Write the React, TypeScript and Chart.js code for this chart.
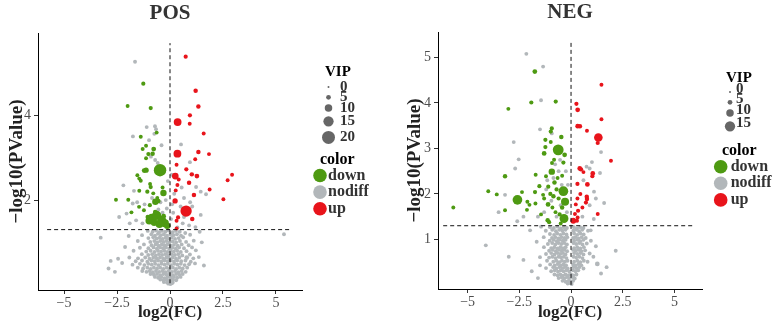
import React, { useEffect, useRef } from 'react';
import { Chart, registerables } from 'chart.js';

Chart.register(...registerables);

const FONT = "'Liberation Serif', 'Times New Roman', serif";
const GREEN = '#4E9A12';
const GRAY = '#B2B7BA';
const RED = '#E8141B';
const KEY_GRAY = '#666666';

type P = [number, number, number?];

// ---------- POS panel ----------
const POS_UP: P[] = [
  [0.74, 5.40, 4], [1.21, 4.59, 4.5], [1.34, 4.22, 4.5], [0.94, 4.01, 4], [0.93, 3.81, 3.5],
  [0.36, 3.85, 10.5], [1.59, 3.58, 3.5], [0.35, 3.10, 10.5], [1.34, 3.14, 4.5], [1.84, 3.09, 3.5],
  [1.19, 2.97, 3.5], [0.31, 2.84, 3.5], [0.25, 2.57, 8.5], [0.77, 2.73, 4], [1.03, 2.61, 4.5],
  [1.27, 2.57, 5], [0.41, 2.49, 3.5], [2.93, 2.60, 3.5], [2.72, 2.47, 3.5], [0.90, 2.41, 4.5],
  [0.35, 2.36, 3.5], [1.87, 2.25, 3.5], [0.27, 2.23, 3.5], [1.13, 2.12, 4.5], [2.52, 2.02, 3.5],
  [0.24, 1.98, 6], [0.76, 1.74, 17], [1.05, 1.55, 4.5], [0.31, 1.51, 3.5], [0.38, 1.59, 4],
  [0.31, 1.33, 3.5],
];
const POS_DOWN: P[] = [
  [-1.26, 4.76, 4], [-2.0, 4.23, 3.5], [-0.91, 4.18, 4], [-0.63, 3.60, 3.5], [-1.38, 3.50, 3.5],
  [-1.13, 3.29, 3.5], [-1.29, 3.21, 3.5], [-0.77, 3.21, 5], [-0.82, 3.10, 4.5], [-1.02, 3.09, 4],
  [-1.13, 2.99, 3.5], [-0.47, 2.71, 19], [-1.13, 2.71, 6], [-1.22, 2.70, 5], [-1.54, 2.59, 3.5],
  [-1.45, 2.51, 3.5], [-1.38, 2.46, 3.5], [-0.94, 2.38, 3.5], [-0.91, 2.31, 4], [-1.07, 2.20, 4],
  [-0.79, 2.16, 3.5], [-0.35, 2.30, 3.5], [-0.31, 2.17, 8], [-2.55, 2.01, 3.5], [-1.97, 2.01, 3.5],
  [-1.45, 2.22, 3.5], [-1.82, 1.71, 3.5], [-1.46, 1.84, 3.5], [-0.69, 1.96, 8], [-0.55, 1.98, 4.5],
  [-1.23, 1.76, 3.5], [-0.86, 1.56, 14], [-0.63, 1.64, 13], [-0.39, 1.52, 13], [-0.24, 1.45, 11],
  [-0.98, 1.51, 10], [-0.13, 1.39, 8], [-0.75, 1.47, 9], [-0.5, 1.43, 10], [-0.7, 1.72, 4.5],
  [-0.3, 1.62, 5], [-1.05, 1.60, 4.5], [-0.95, 1.88, 4], [-0.6, 2.05, 3.5],
];
const POS_NODIFF: P[] = [
  [-1.65, 5.28], [-1.1, 3.73], [-0.71, 3.75], [-0.66, 3.68], [-0.74, 3.57], [-1.75, 3.51],
  [-0.99, 3.42], [-0.9, 3.03], [-0.7, 2.95], [-0.58, 2.88], [0.94, 2.9], [1.7, 2.14],
  [1.23, 2.31], [1.45, 2.2], [-2.2, 2.35], [-1.7, 2.22], [-1.76, 1.92], [-2.05, 1.68],
  [-1.55, 1.95], [0.55, 2.3], [0.66, 2.05], [0.5, 1.85], [0.95, 1.95], [1.45, 1.65],
  [0.66, 1.6], [-0.2, 2.0], [-0.15, 1.8], [0.1, 1.9], [0.15, 1.7], [0.05, 1.55],
  [-0.45, 1.95], [-1.3, 1.45], [-1.6, 1.52], [0.6, 1.45], [0.9, 1.4], [1.2, 1.36],
  [-0.1, 2.45], [0.08, 2.6], [-0.4, 3.3], [0.52, 3.32], [-0.35, 1.7], [-0.55, 1.78],
  [-1.2, 1.9], [-0.85, 2.05], [0.2, 2.15], [0.35, 1.35], [-0.05, 1.4], [1.05, 1.85],
  [-2.4, 1.6], [-1.9, 1.45],
  [-1.05, 1.27], [-0.82, 1.25], [-0.66, 1.28], [-0.52, 1.24], [-0.38, 1.27], [-0.22, 1.25],
  [-0.08, 1.28], [0.12, 1.24], [0.28, 1.27], [0.46, 1.25], [0.72, 1.22],
  [-1.32, 1.17], [-0.88, 1.19], [-0.71, 1.16], [-0.57, 1.2], [-0.43, 1.17], [-0.29, 1.19],
  [-0.14, 1.16], [0.02, 1.19], [0.17, 1.17], [0.33, 1.19], [0.52, 1.16], [0.95, 1.18],
  [-3.27, 1.11], [-1.02, 1.1], [-0.79, 1.12], [-0.63, 1.09], [-0.49, 1.11], [-0.35, 1.08],
  [-0.21, 1.11], [-0.06, 1.09], [0.09, 1.11], [0.24, 1.08], [0.41, 1.1], [0.62, 1.12],
  [-1.52, 1.03], [-0.93, 1.01], [-0.74, 1.03], [-0.6, 1.0], [-0.46, 1.03], [-0.31, 1.01],
  [-0.17, 1.03], [-0.02, 1.0], [0.13, 1.02], [0.29, 1.0], [0.47, 1.03], [0.76, 1.01], [1.12, 1.04],
  [-1.23, 0.95], [-0.87, 0.93], [-0.68, 0.95], [-0.54, 0.92], [-0.39, 0.95], [-0.26, 0.93],
  [-0.11, 0.95], [0.04, 0.92], [0.19, 0.94], [0.36, 0.92], [0.55, 0.95], [0.88, 0.93],
  [-2.12, 0.89], [-1.42, 0.87], [-1.02, 0.86], [-0.78, 0.88], [-0.62, 0.85], [-0.47, 0.88],
  [-0.33, 0.86], [-0.19, 0.88], [-0.04, 0.85], [0.11, 0.87], [0.27, 0.85], [0.43, 0.88],
  [0.66, 0.86], [1.04, 0.88],
  [-1.72, 0.8], [-1.12, 0.78], [-0.91, 0.8], [-0.73, 0.77], [-0.57, 0.8], [-0.42, 0.78],
  [-0.27, 0.8], [-0.12, 0.77], [0.03, 0.8], [0.18, 0.78], [0.34, 0.8], [0.51, 0.77],
  [0.78, 0.79], [1.22, 0.81],
  [-1.33, 0.72], [-1.03, 0.7], [-0.84, 0.72], [-0.67, 0.69], [-0.52, 0.72], [-0.37, 0.7],
  [-0.22, 0.72], [-0.07, 0.69], [0.08, 0.72], [0.23, 0.7], [0.39, 0.72], [0.58, 0.69], [0.94, 0.71],
  [-1.92, 0.64], [-1.51, 0.62], [-1.17, 0.64], [-0.97, 0.61], [-0.79, 0.64], [-0.63, 0.62],
  [-0.47, 0.64], [-0.32, 0.61], [-0.17, 0.64], [-0.02, 0.62], [0.13, 0.64], [0.28, 0.61],
  [0.44, 0.64], [0.79, 0.64, 5], [1.1, 0.62], [1.36, 0.65], [-2.45, 0.61],
  [-2.8, 0.56], [-1.62, 0.55], [-1.32, 0.57], [-1.07, 0.54], [-0.88, 0.57], [-0.72, 0.55],
  [-0.56, 0.57], [-0.41, 0.54], [-0.26, 0.57], [-0.11, 0.55], [0.04, 0.57], [0.19, 0.54],
  [0.34, 0.57], [0.53, 0.55], [0.73, 0.57], [0.98, 0.54],
  [-2.26, 0.51], [-1.77, 0.47], [-1.42, 0.49], [-1.21, 0.46], [-1.02, 0.49], [-0.86, 0.47],
  [-0.7, 0.49], [-0.55, 0.46], [-0.4, 0.49], [-0.25, 0.47], [-0.1, 0.49], [0.05, 0.46],
  [0.2, 0.49], [0.35, 0.47], [0.51, 0.49], [0.69, 0.46], [0.9, 0.48], [1.18, 0.5],
  [-1.52, 0.4], [-1.27, 0.38], [-1.07, 0.4], [-0.91, 0.37], [-0.76, 0.4], [-0.61, 0.38],
  [-0.46, 0.4], [-0.31, 0.37], [-0.16, 0.4], [-0.01, 0.38], [0.14, 0.4], [0.29, 0.37],
  [0.44, 0.4], [0.6, 0.38], [0.81, 0.4],
  [-1.31, 0.32], [-1.11, 0.3], [-0.96, 0.32], [-0.81, 0.29], [-0.66, 0.32], [-0.51, 0.3],
  [-0.36, 0.32], [-0.21, 0.29], [-0.06, 0.32], [0.09, 0.3], [0.24, 0.32], [0.4, 0.29],
  [0.55, 0.32], [0.74, 0.3],
  [-0.92, 0.25], [-0.76, 0.23], [-0.61, 0.25], [-0.46, 0.22], [-0.31, 0.25], [-0.16, 0.23],
  [-0.01, 0.25], [0.14, 0.22], [0.29, 0.25], [0.44, 0.23], [0.6, 0.25],
  [-0.71, 0.18], [-0.56, 0.16], [-0.41, 0.18], [-0.26, 0.15], [-0.11, 0.18], [0.04, 0.16],
  [0.19, 0.18], [0.34, 0.16], [0.5, 0.18],
  [-0.46, 0.12], [-0.31, 0.1], [-0.16, 0.12], [-0.01, 0.1], [0.14, 0.12], [0.29, 0.1],
  [-0.29, 0.06], [-0.14, 0.05], [0.01, 0.07], [0.13, 0.05],
  [-0.08, 0.02], [0.02, 0.01], [0.09, 0.03],
  [1.5, 1.0], [-2.6, 0.3], [-2.9, 0.38], [1.6, 0.45], [-1.95, 1.15], [1.4, 1.25], [5.38, 1.19],
];

// ---------- NEG panel ----------
const NEG_UP: P[] = [
  [1.47, 4.40, 3.5], [0.26, 3.98, 4], [0.32, 3.85, 5], [1.47, 3.64, 3.5], [0.32, 3.49, 5],
  [0.43, 3.49, 4.5], [0.77, 3.39, 3.5], [1.32, 3.24, 12], [1.29, 3.12, 4], [1.93, 2.73, 3.5],
  [0.42, 2.56, 5], [0.48, 2.54, 4.5], [0.60, 2.48, 3.5], [1.05, 2.45, 5], [1.03, 2.39, 4],
  [0.31, 2.22, 4], [0.79, 2.21, 5], [0.76, 1.94, 4.5], [0.77, 1.89, 4.5], [0.72, 1.81, 4],
  [0.31, 1.90, 3.5], [0.23, 1.77, 3.5], [0.34, 1.63, 4], [0.19, 1.56, 3.5], [1.29, 1.56, 3.5],
  [0.32, 1.48, 3.5], [0.11, 1.41, 7], [0.29, 1.41, 3.5], [0.45, 2.0, 3.5], [0.55, 1.7, 3.5],
];
const NEG_DOWN: P[] = [
  [-1.75, 4.69, 5], [-1.92, 4.01, 4], [-0.74, 4.03, 4], [-3.03, 3.87, 3.5], [-0.93, 3.44, 4],
  [-0.98, 3.37, 4], [-0.47, 3.25, 4.5], [-1.24, 3.19, 4], [-0.98, 3.14, 3.5], [-1.24, 3.03, 4],
  [-0.62, 2.97, 16], [-1.30, 2.89, 5], [-0.31, 2.86, 5], [-0.82, 2.75, 3.5], [-0.37, 2.69, 4],
  [-0.92, 2.68, 3.5], [-0.93, 2.49, 8], [-1.21, 2.39, 3.5], [-0.43, 2.40, 3.5], [-1.71, 2.42, 3.5],
  [-3.19, 2.39, 4.5], [-0.37, 2.06, 14], [-4.0, 2.06, 3.5], [-3.59, 1.99, 3.5], [-1.74, 2.04, 4],
  [-2.37, 2.04, 3.5], [-2.59, 1.87, 14], [-2.11, 1.83, 3.5], [-5.69, 1.70, 3.5], [-3.19, 1.64, 3.5],
  [-2.13, 1.65, 3.5], [-2.01, 1.76, 3.5], [-1.53, 2.17, 4], [-1.35, 1.98, 3.5], [-1.1, 2.16, 4],
  [-0.29, 1.83, 11], [-1.11, 1.77, 5], [-1.72, 1.79, 3.5], [-1.13, 1.42, 4.5], [-1.06, 1.38, 4],
  [-0.34, 1.46, 12.5], [-0.43, 1.70, 4.5], [-0.8, 2.25, 4.5], [-0.7, 2.1, 4], [-0.85, 1.95, 4.5],
  [-0.6, 1.9, 4], [-0.75, 1.6, 3.5], [-0.55, 1.55, 4], [-0.9, 1.7, 3.5], [-1.45, 1.55, 3.5],
  [-0.65, 2.35, 3.5], [-1.0, 2.0, 4], [-0.5, 1.35, 3.5], [-1.3, 1.9, 3.5],
];
const NEG_NODIFF: P[] = [
  [-2.16, 5.08], [-1.35, 4.80], [-1.45, 4.06], [-1.5, 3.42], [-0.93, 3.33], [-2.77, 3.14],
  [-2.53, 2.76], [1.45, 2.92], [1.01, 2.70], [0.9, 2.56], [-0.53, 2.75], [-0.77, 2.65],
  [-2.7, 2.56], [1.4, 2.46], [1.11, 2.05], [-3.19, 1.98], [-1.15, 2.3], [-0.6, 2.5],
  [-0.85, 2.35], [-0.45, 2.2], [-1.2, 2.1], [-0.95, 1.85], [-0.5, 1.75], [-0.7, 1.5],
  [-1.3, 1.6], [-0.2, 1.6], [-0.15, 2.2], [0.6, 2.3], [0.9, 1.75], [0.55, 1.5],
  [0.75, 2.6], [-1.6, 1.5], [-2.3, 1.5], [-2.6, 1.4], [-3.5, 1.6], [1.2, 1.9],
  [1.6, 1.8], [-0.25, 2.5], [1.1, 1.45],
  [-1.02, 1.27], [-0.83, 1.25], [-0.66, 1.28], [-0.5, 1.24], [-0.35, 1.27], [-0.2, 1.25],
  [0.14, 1.27], [0.29, 1.24], [0.44, 1.27], [0.6, 1.25],
  [-1.98, 1.2], [-1.22, 1.19], [-0.91, 1.21], [-0.73, 1.18], [-0.57, 1.21], [-0.42, 1.19],
  [-0.27, 1.21], [0.11, 1.19], [0.24, 1.21], [0.39, 1.18], [0.54, 1.21], [0.82, 1.19],
  [-1.02, 1.12], [-0.82, 1.1], [-0.67, 1.13], [-0.52, 1.1], [-0.37, 1.13], [-0.22, 1.11],
  [0.15, 1.13], [0.3, 1.1], [0.45, 1.13], [0.61, 1.11],
  [-1.32, 1.05], [-0.92, 1.03], [-0.76, 1.05], [-0.61, 1.02], [-0.46, 1.05], [-0.31, 1.03],
  [-0.18, 1.05], [0.1, 1.03], [0.22, 1.05], [0.37, 1.02], [0.52, 1.05], [0.71, 1.03],
  [-1.03, 0.97], [-0.84, 0.99], [-0.69, 0.96], [-0.55, 0.99], [-0.4, 0.97], [-0.26, 0.99],
  [0.15, 0.97], [0.3, 0.99], [0.45, 0.96], [0.6, 0.99], [0.96, 0.97],
  [-1.66, 0.95], [-1.12, 0.9], [-0.91, 0.92], [-0.76, 0.89], [-0.61, 0.92], [-0.47, 0.9],
  [-0.33, 0.92], [-0.2, 0.89], [0.12, 0.92], [0.25, 0.9], [0.4, 0.92], [0.55, 0.89], [0.76, 0.91],
  [-1.31, 0.83], [-0.96, 0.81], [-0.81, 0.83], [-0.66, 0.8], [-0.52, 0.83], [-0.39, 0.81],
  [-0.26, 0.83], [0.15, 0.81], [0.3, 0.83], [0.45, 0.8], [0.62, 0.83],
  [-1.06, 0.75], [-0.88, 0.77], [-0.73, 0.74], [-0.58, 0.77], [-0.45, 0.75], [-0.32, 0.77],
  [-0.19, 0.74], [0.1, 0.77], [0.22, 0.75], [0.36, 0.77], [0.5, 0.74], [0.68, 0.76], [2.16, 0.75],
  [-1.21, 0.68], [-0.96, 0.7], [-0.8, 0.67], [-0.65, 0.7], [-0.52, 0.68], [-0.39, 0.7],
  [-0.27, 0.67], [0.15, 0.7], [0.3, 0.68], [0.45, 0.7], [0.6, 0.67], [0.9, 0.69],
  [-3.01, 0.62], [-1.5, 0.61], [-1.06, 0.6], [-0.9, 0.62], [-0.75, 0.59], [-0.6, 0.62],
  [-0.48, 0.6], [-0.35, 0.62], [-0.22, 0.59], [0.12, 0.62], [0.25, 0.6], [0.4, 0.62],
  [0.55, 0.59], [1.08, 0.62],
  [-1.16, 0.53], [-0.86, 0.51], [-0.71, 0.53], [-0.57, 0.5], [-0.44, 0.53], [-0.3, 0.51],
  [-0.17, 0.53], [0.15, 0.51], [0.3, 0.53], [0.45, 0.5], [0.62, 0.53], [0.8, 0.51],
  [-1.5, 0.43], [-1.01, 0.45], [-0.79, 0.43], [-0.64, 0.46], [-0.5, 0.43], [-0.37, 0.45],
  [-0.24, 0.43], [0.1, 0.45], [0.22, 0.43], [0.36, 0.46], [0.5, 0.43], [1.27, 0.46, 5], [1.72, 0.39],
  [-1.21, 0.37], [-0.86, 0.39], [-0.71, 0.36], [-0.56, 0.39], [-0.42, 0.37], [-0.3, 0.39],
  [-0.16, 0.36], [0.12, 0.39], [0.26, 0.37], [0.4, 0.39], [0.6, 0.36],
  [-0.96, 0.3], [-0.79, 0.32], [-0.63, 0.29], [-0.5, 0.32], [-0.36, 0.3], [-0.22, 0.32],
  [-0.08, 0.29], [0.1, 0.32], [0.22, 0.3], [0.35, 0.32],
  [-0.8, 0.23], [-0.65, 0.21], [-0.52, 0.23], [-0.4, 0.2], [-0.27, 0.23], [-0.14, 0.21],
  [0.0, 0.23], [0.12, 0.21], [0.26, 0.23],
  [-0.6, 0.15], [-0.46, 0.17], [-0.33, 0.14], [-0.2, 0.17], [-0.07, 0.15], [0.07, 0.17], [0.18, 0.14],
  [-0.41, 0.09], [-0.26, 0.07], [-0.13, 0.09], [0.0, 0.07], [0.1, 0.09],
  [-0.16, 0.03], [-0.05, 0.04], [0.03, 0.02],
  [-4.12, 0.87], [-1.9, 0.3], [-2.3, 0.55], [1.45, 0.25], [0.95, 1.2], [-1.45, 1.28], [1.2, 0.85], [-1.6, 0.15],
];

// ---------- axes / legend text ----------
const X_TICKS = [-5, -2.5, 0, 2.5, 5];
const X_TICK_LABELS = ['\u22125', '\u22122.5', '0', '2.5', '5'];
const POS_Y_TICKS = [2, 4];
const NEG_Y_TICKS = [1, 2, 3, 4, 5];
const POS_VIP_BREAKS = [0, 5, 10, 15, 20];
const NEG_VIP_BREAKS = [0, 5, 10, 15];
const COLOR_LABELS = ['down', 'nodiff', 'up'];
const COLOR_VALUES = [GREEN, GRAY, RED];
const P_CUTOFF = 0.05;
const X_TITLE = 'log2(FC)';
const Y_TITLE = '\u2212log10(PValue)';
const GRAY_VIP = 3.4;

const POS_HLINE_X = [-5.8, 5.75];
const POS_VLINE_Y = [0.03, 5.72];
const NEG_HLINE_X = [-6.18, 5.99];
const NEG_VLINE_Y = [0.0, 5.37];

const vipRadius = (v: number) => 1 + 0.275 * v;

const keyLegendPlugin = {
  id: 'keyLegend',
  afterDraw(chart: any, _args: any, o: any) {
    const ctx = chart.ctx;
    ctx.save();
    ctx.textBaseline = 'middle';
    ctx.textAlign = 'left';
    ctx.fillStyle = '#000';
    ctx.font = `bold 15px ${FONT}`;
    ctx.fillText('VIP', o.vipTitleX, o.vipTitleY);
    let y = o.vipY0;
    let prev: number | null = null;
    (o.breaks as number[]).forEach((b) => {
      const r = vipRadius(b);
      if (prev !== null) y += Math.max(10.3, prev + r + 4.5);
      prev = r;
      ctx.fillStyle = KEY_GRAY;
      ctx.beginPath();
      ctx.arc(o.vipCircleX, y, r, 0, Math.PI * 2);
      ctx.fill();
      ctx.fillStyle = '#333';
      ctx.font = `bold 15px ${FONT}`;
      ctx.fillText(String(b), o.vipLabelX, y + o.vipLabelDy);
    });
    ctx.fillStyle = '#000';
    ctx.font = `bold 16px ${FONT}`;
    ctx.fillText('color', o.colorTitleX, o.colorTitleY);
    COLOR_LABELS.forEach((lab, i) => {
      const cy = o.colorY0 + i * 16.6;
      ctx.fillStyle = COLOR_VALUES[i];
      ctx.beginPath();
      ctx.arc(o.colorCircleX, cy, 6.8, 0, Math.PI * 2);
      ctx.fill();
      ctx.fillStyle = '#333';
      ctx.font = `bold 16px ${FONT}`;
      ctx.fillText(lab, o.colorLabelX, cy);
    });
    ctx.restore();
  },
};

function toPts(arr: P[]) {
  return arr.map(([x, y, v]) => ({ x, y, v: v ?? GRAY_VIP }));
}

function buildConfig(cfg: any): any {
  const thr = -Math.log10(P_CUTOFF);
  const pr = (c: any) => vipRadius(c.raw && c.raw.v != null ? c.raw.v : GRAY_VIP);
  const pointDs = (label: string, arr: P[], color: string, order: number) => ({
    label,
    data: toPts(arr),
    backgroundColor: color,
    borderWidth: 0,
    pointRadius: pr,
    pointHoverRadius: pr,
    order,
  });
  const lineDs = (data: any[]) => ({
    data,
    showLine: true,
    borderColor: '#111',
    borderWidth: 1,
    borderDash: [4, 3],
    pointRadius: 0,
    pointHoverRadius: 0,
    order: 0,
  });
  return {
    type: 'scatter',
    data: {
      datasets: [
        lineDs([{ x: cfg.hx[0], y: thr }, { x: cfg.hx[1], y: thr }]),
        lineDs([{ x: 0, y: cfg.vy[0] }, { x: 0, y: cfg.vy[1] }]),
        pointDs('up', cfg.up, RED, 1),
        pointDs('down', cfg.down, GREEN, 2),
        pointDs('nodiff', cfg.nodiff, GRAY, 3),
      ],
    },
    options: {
      responsive: false,
      animation: false,
      devicePixelRatio: 1,
      layout: { padding: { left: 0, right: cfg.padRight, top: 0, bottom: 0 } },
      plugins: {
        legend: { display: false },
        tooltip: { enabled: false },
        title: {
          display: true,
          text: cfg.title,
          fullSize: false,
          color: '#333',
          font: { family: FONT, size: 21, weight: 'bold' },
          padding: { top: cfg.titleTop, bottom: cfg.titleBottom },
        },
        keyLegend: cfg.legend,
      },
      scales: {
        x: {
          type: 'linear',
          min: cfg.xMin,
          max: cfg.xMax,
          afterBuildTicks: (s: any) => {
            s.ticks = X_TICKS.map((value) => ({ value }));
          },
          afterFit: (s: any) => {
            s.height = cfg.xH;
          },
          ticks: {
            autoSkip: false,
            maxRotation: 0,
            padding: 1,
            color: '#4d4d4d',
            font: { family: FONT, size: 14 },
            callback: (v: number) => {
              const i = X_TICKS.indexOf(v);
              return i >= 0 ? X_TICK_LABELS[i] : String(v);
            },
          },
          grid: { drawOnChartArea: false, tickLength: 4, color: '#333' },
          border: { display: true, color: '#000', width: 1 },
          title: {
            display: true,
            text: X_TITLE,
            color: '#222',
            font: { family: FONT, size: 17, weight: 'bold' },
            padding: { top: 0, bottom: 8 },
          },
        },
        y: {
          type: 'linear',
          min: cfg.yMin,
          max: cfg.yMax,
          afterBuildTicks: (s: any) => {
            s.ticks = cfg.yTicks.map((value: number) => ({ value }));
          },
          afterFit: (s: any) => {
            s.width = cfg.yW;
          },
          ticks: {
            autoSkip: false,
            padding: 3,
            color: '#4d4d4d',
            font: { family: FONT, size: 14 },
            callback: (v: number) => String(v),
          },
          grid: { drawOnChartArea: false, tickLength: 4, color: '#333' },
          border: { display: true, color: '#000', width: 1 },
          title: {
            display: true,
            text: Y_TITLE,
            color: '#222',
            font: { family: FONT, size: 19, weight: 'bold' },
            padding: { top: cfg.yTitlePad, bottom: 0 },
          },
        },
      },
    },
    plugins: [keyLegendPlugin],
  };
}

const POS_CFG = {
  title: 'POS', up: POS_UP, down: POS_DOWN, nodiff: POS_NODIFF,
  hx: POS_HLINE_X, vy: POS_VLINE_Y,
  xMin: -6.23, xMax: 6.23, yMin: -0.13, yMax: 5.96, yTicks: POS_Y_TICKS,
  padRight: 88, xH: 41, yW: 38, titleTop: 1, titleBottom: 6.8, yTitlePad: 6,
  legend: {
    breaks: POS_VIP_BREAKS, vipTitleX: 325, vipTitleY: 72.5, vipY0: 87, vipCircleX: 328.5,
    vipLabelX: 340, vipLabelDy: 0, colorTitleX: 320, colorTitleY: 160, colorY0: 175.5,
    colorCircleX: 320, colorLabelX: 328,
  },
};
const NEG_CFG = {
  title: 'NEG', up: NEG_UP, down: NEG_DOWN, nodiff: NEG_NODIFF,
  hx: NEG_HLINE_X, vy: NEG_VLINE_Y,
  xMin: -6.43, xMax: 6.33, yMin: -0.09, yMax: 5.56, yTicks: NEG_Y_TICKS,
  padRight: 73, xH: 42, yW: 48, titleTop: 0, titleBottom: 6.8, yTitlePad: 14,
  legend: {
    breaks: NEG_VIP_BREAKS, vipTitleX: 336, vipTitleY: 78, vipY0: 92, vipCircleX: 340,
    vipLabelX: 346, vipLabelDy: -3, colorTitleX: 332, colorTitleY: 151, colorY0: 166.7,
    colorCircleX: 330.7, colorLabelX: 340.7,
  },
};

function Panel({ cfg, left, width }: { cfg: any; left: number; width: number }) {
  const ref = useRef<HTMLCanvasElement>(null);
  useEffect(() => {
    if (!ref.current) return;
    const chart = new Chart(ref.current, buildConfig(cfg));
    return () => chart.destroy();
  }, [cfg]);
  return (
    <canvas
      ref={ref}
      width={width}
      height={331}
      style={{ position: 'absolute', left, top: 0, width, height: 331 }}
    />
  );
}

export default function App() {
  return (
    <div style={{ position: 'absolute', left: 0, top: 0, width: 775, height: 331, background: '#fff' }}>
      <Panel cfg={POS_CFG} left={0} width={390} />
      <Panel cfg={NEG_CFG} left={390} width={385} />
    </div>
  );
}
